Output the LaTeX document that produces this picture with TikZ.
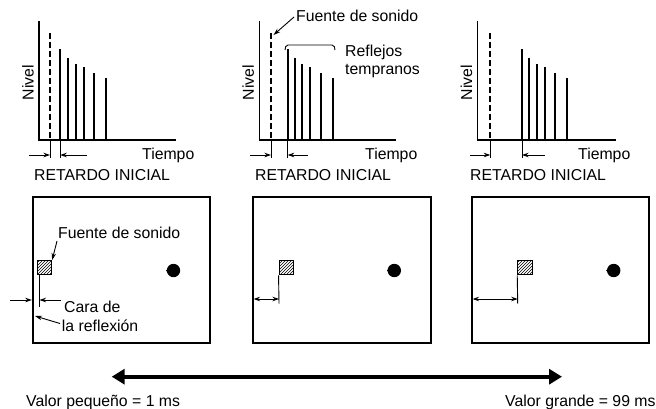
\documentclass[tikz,border=0pt]{standalone}
\usepackage{fontspec}
\setmainfont{Liberation Sans}
\usetikzlibrary{arrows.meta,patterns}
\tikzset{
  axisline/.style={line width=1.1pt},
  barline/.style={line width=2.1pt},
  srcline/.style={line width=2.1pt, dash pattern=on 6pt off 3pt},
  tickline/.style={line width=0.9pt},
  dimarrow/.style={line width=0.9pt,-{Stealth[length=6.5pt,width=4.5pt]}},
  dimboth/.style={line width=0.9pt,{Stealth[length=6.5pt,width=4.5pt]}-{Stealth[length=6.5pt,width=4.5pt]}},
  callout/.style={line width=0.9pt,-{Stealth[length=7pt,width=4.5pt]}},
  roomwall/.style={line width=1.9pt},
  srcbox/.style={draw, line width=0.9pt, pattern=north east lines, minimum size=14.4pt, inner sep=0pt},
  lbl/.style={inner sep=0pt, anchor=base west, font=\fontsize{15.8}{18}\selectfont},
  bigarrow/.style={line width=4pt,{Triangle[length=13pt,width=15pt]}-{Triangle[length=13pt,width=15pt]}}
}
\newcommand\EchoChart[9]{%
  \coordinate (#1-top) at (#2,21);
  \coordinate (#1-o) at (#2,140);
  \coordinate (#1-end) at (#3,140);
  \draw[axisline] (#1-top) -- (#1-o) -- (#1-end);
  \coordinate (#1-src) at (#4,33);
  \coordinate (#1-srcb) at (#4,140);
  \coordinate (#1-srct) at (#4,158);
  \coordinate (#1-da) at (#6,155);
  \coordinate (#1-db) at (#4,155);
  \draw[srcline] (#1-src) -- (#1-srcb);
  \draw[tickline] (#1-srcb) -- (#1-srct);
  \draw[dimarrow] (#1-da) -- (#1-db);
  \foreach \bx/\bt [count=\i] in {#5} {
    \coordinate (#1-b\i) at (\bx,\bt);
    \coordinate (#1-bb\i) at (\bx,140);
    \draw[barline] (#1-b\i) -- (#1-bb\i);
    \ifnum\i=1
      \coordinate (#1-bt) at (\bx,158);
      \coordinate (#1-dc) at (#7,155);
      \coordinate (#1-dd) at (\bx,155);
      \draw[tickline] (#1-bb\i) -- (#1-bt);
      \draw[dimarrow] (#1-dc) -- (#1-dd);
    \fi
  }
  \node[lbl] (#1-tiempo) at (#8,159.5) {Tiempo};
  \node[lbl] (#1-ret) at (#9,180) {RETARDO INICIAL};
  \node[lbl, rotate=90, anchor=base] (#1-nivel) at (#2-5.5,82.5) {Nivel};
}
\begin{document}
\begin{tikzpicture}[x=1pt,y=-1pt]
\useasboundingbox (0,0) rectangle (656,408);

% ---------- charts ----------
\EchoChart{c1}{39}{176}{50}{60.3/49,68/58,75.7/64,83.7/67,94.3/73,105.7/78}{29}{87}{142}{34}
\EchoChart{c2}{259.3}{396}{271}{287.7/49,294.7/58,302.3/64,310.3/67,321.3/73,332.7/78}{250}{308}{365}{255}
\EchoChart{c3}{477.7}{616}{490.3}{522/49,529/58,536.7/64,545/67,555.3/73,566.7/78}{470}{545}{578}{470}

% chart 2 annotations
\node[lbl] (c2-fuente) at (296,21.7) {Fuente de sonido};
\coordinate (c2-fa) at (294,17);
\coordinate (c2-fb) at (273.5,35);
\draw[callout] (c2-fa) -- (c2-fb);
\coordinate (c2-brl) at (285,50);
\coordinate (c2-brr) at (335,50);
\draw[line width=0.9pt] (c2-brl) to[out=90,in=180] (288,45) -- (332,45) to[out=0,in=90] (c2-brr);
\node[lbl] (c2-refl) at (345,56) {Reflejos};
\node[lbl] (c2-temp) at (345,74) {tempranos};

% ---------- rooms ----------
% room 1
\draw[roomwall] (32.7,196.7) rectangle (210,343);
\node[srcbox] (sq1) at (44.5,267.7) {};
\coordinate (r1-la) at (39.5,275.3);
\coordinate (r1-lb) at (39.5,307);
\draw[tickline] (r1-la) -- (r1-lb);
\coordinate (r1-a1) at (10,300);
\coordinate (r1-a2) at (31.8,300);
\coordinate (r1-a3) at (61,300);
\coordinate (r1-a4) at (39.5,300);
\draw[dimarrow] (r1-a1) -- (r1-a2);
\draw[dimarrow] (r1-a3) -- (r1-a4);
\fill (173.5,270.5) circle (6.7);
\fill (166,270.5) -- (170,266.5) -- (170,274.5) -- cycle;
\node[lbl] (r1-fuente) at (58,238.3) {Fuente de sonido};
\coordinate (r1-fa) at (57,241);
\draw[callout] (r1-fa) -- (sq1.north east);
\node[lbl] (r1-cara) at (64,312.7) {Cara de};
\node[lbl] (r1-refl) at (61.7,331.7) {la reflexión};
\coordinate (r1-ra) at (60,323.5);
\coordinate (r1-rb) at (35,316);
\draw[callout] (r1-ra) -- (r1-rb);

% room 2
\draw[roomwall] (252.7,196.7) rectangle (431,343);
\node[srcbox] (sq2) at (286.2,267.7) {};
\coordinate (r2-la) at (sq2.south west);
\coordinate (r2-lb) at (279,303.5);
\draw[tickline] (r2-la) -- (r2-lb);
\coordinate (r2-a1) at (253.6,299);
\coordinate (r2-a2) at (279,299);
\draw[dimboth] (r2-a1) -- (r2-a2);
\fill (394.3,270.5) circle (6.7);
\fill (386.8,270.5) -- (390.8,266.5) -- (390.8,274.5) -- cycle;

% room 3
\draw[roomwall] (471.7,196.7) rectangle (649.3,343);
\node[srcbox] (sq3) at (524.9,267.7) {};
\coordinate (r3-la) at (sq3.south west);
\coordinate (r3-lb) at (517.7,303.5);
\draw[tickline] (r3-la) -- (r3-lb);
\coordinate (r3-a1) at (472.6,299);
\coordinate (r3-a2) at (517.7,299);
\draw[dimboth] (r3-a1) -- (r3-a2);
\fill (613.7,270.5) circle (6.7);
\fill (606.2,270.5) -- (610.2,266.5) -- (610.2,274.5) -- cycle;

% ---------- bottom scale ----------
\coordinate (lo) at (111.7,376.7);
\coordinate (hi) at (562,376.7);
\draw[bigarrow] (lo) -- (hi);
\node[lbl] (vmin) at (26,406) {Valor pequeño = 1 ms};
\node[lbl] (vmax) at (505,406) {Valor grande = 99 ms};
\end{tikzpicture}
\end{document}
